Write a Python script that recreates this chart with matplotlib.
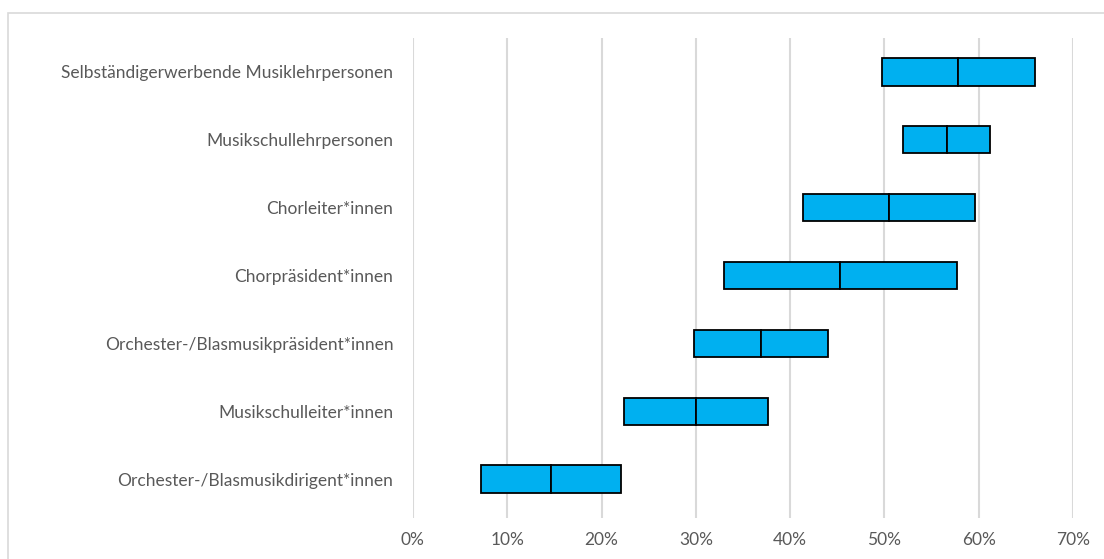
import matplotlib.pyplot as plt
from matplotlib.patches import Rectangle
from matplotlib.ticker import PercentFormatter

# Kategorien von unten nach oben
kategorien = [
    "Orchester-/Blasmusikdirigent*innen",
    "Musikschulleiter*innen",
    "Orchester-/Blasmusikpräsident*innen",
    "Chorpräsident*innen",
    "Chorleiter*innen",
    "Musikschullehrpersonen",
    "Selbständigerwerbende Musiklehrpersonen",
]
unten = [7.2, 22.4, 29.8, 33.0, 41.4, 52.0, 49.7]
median = [14.6, 30.0, 36.9, 45.3, 50.5, 56.6, 57.8]
oben = [22.1, 37.6, 44.0, 57.7, 59.6, 61.2, 66.0]

plt.rcParams['font.family'] = ['Lato', 'DejaVu Sans']

fig = plt.figure(figsize=(11.04, 5.59), dpi=100)
ax = fig.add_axes([0.374, 0.0733, 0.598, 0.8587])

pos = list(range(len(kategorien)))
blau = "#00B0F0"
ax.barh(pos, [m - u for u, m in zip(unten, median)], left=unten, height=0.4,
        color=blau, edgecolor="black", linewidth=1.3, zorder=3)
ax.barh(pos, [o - m for m, o in zip(median, oben)], left=median, height=0.4,
        color=blau, edgecolor="black", linewidth=1.3, zorder=3)

ax.set_xlim(0, 70)
ax.set_ylim(-0.575, len(kategorien) - 0.5)
ax.set_xticks(range(0, 71, 10))
ax.xaxis.set_major_formatter(PercentFormatter(decimals=0))
ax.set_yticks(pos)
ax.set_yticklabels(kategorien)
ax.tick_params(axis="both", length=0, labelsize=12.5, colors="#595959")
ax.tick_params(axis="y", pad=14)
ax.tick_params(axis="x", pad=10)
ax.grid(axis="x", color="#d9d9d9", linewidth=1.5, zorder=0)
ax.set_axisbelow(True)
for s in ax.spines.values():
    s.set_visible(False)

# heller Rahmen um das Diagramm
fig.patches.append(Rectangle((8 / 1104, -0.05), 1.05, 0.05 + 546 / 559,
                             transform=fig.transFigure, fill=False,
                             edgecolor="#d9d9d9", linewidth=1.2))

fig.savefig("out.png", dpi=100)
